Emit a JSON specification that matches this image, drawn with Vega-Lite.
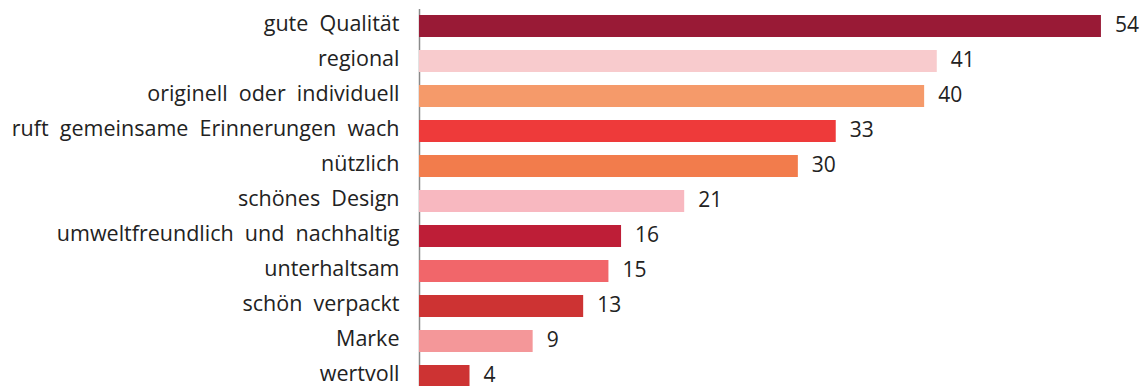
{
  "$schema": "https://vega.github.io/schema/vega-lite/v6.json",
  "width": 700,
  "height": 385,
  "autosize": {"type": "none"},
  "padding": {"left": 419, "top": 8.5, "right": 25, "bottom": 0},
  "background": "white",
  "data": {"values": [
    {"label": "gute Qualität", "value": 54, "color": "#991A36"},
    {"label": "regional", "value": 41, "color": "#F8CBCD"},
    {"label": "originell oder individuell", "value": 40, "color": "#F59A6A"},
    {"label": "ruft gemeinsame Erinnerungen wach", "value": 33, "color": "#EE3A3A"},
    {"label": "nützlich", "value": 30, "color": "#F27C4C"},
    {"label": "schönes Design", "value": 21, "color": "#F8B8C0"},
    {"label": "umweltfreundlich und nachhaltig", "value": 16, "color": "#BE1E37"},
    {"label": "unterhaltsam", "value": 15, "color": "#F1666A"},
    {"label": "schön verpackt", "value": 13, "color": "#CD3333"},
    {"label": "Marke", "value": 9, "color": "#F49799"},
    {"label": "wertvoll", "value": 4, "color": "#CD3333"}
  ]},
  "encoding": {
    "y": {"field": "label", "type": "nominal", "sort": null,
      "scale": {"paddingInner": 0.371, "paddingOuter": 0.1855},
      "axis": {"title": null, "ticks": false, "labelPadding": 20, "labelFont": "Open Sans", "labelFontSize": 21.5, "labelColor": "#222222", "labelBaseline": "middle", "labelOffset": -1, "domainColor": "#8a8a8a", "domainWidth": 1.5, "labelLimit": 0,
        "labelExpr": "replace(datum.label, / /g, '\u00a0 ')"}},
    "x": {"field": "value", "type": "quantitative", "scale": {"domain": [0, 55.43]}, "axis": null}
  },
  "layer": [
    {"mark": {"type": "bar", "cornerRadius": 0},
     "encoding": {"color": {"field": "color", "type": "nominal", "scale": null}}},
    {"mark": {"type": "text", "align": "left", "baseline": "middle", "dx": 14, "dy": 0, "font": "Open Sans", "fontSize": 21, "color": "#222222"},
     "encoding": {"text": {"field": "value", "type": "quantitative"}}}
  ],
  "config": {"view": {"stroke": null}}
}
